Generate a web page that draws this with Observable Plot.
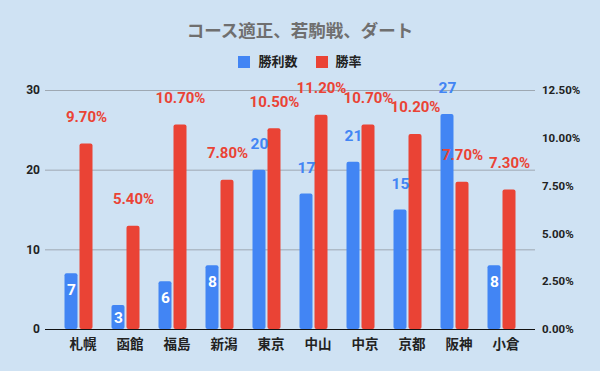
<!DOCTYPE html>
<html><head><meta charset="utf-8">
<script src="https://cdn.jsdelivr.net/npm/d3@7"></script>
<script src="https://cdn.jsdelivr.net/npm/@observablehq/plot@0.6"></script>
<style>
html,body{margin:0;padding:0;background:#cfe2f3;}
body{width:600px;height:371px;overflow:hidden;font-family:Roboto,"Noto Sans CJK JP",sans-serif;}
#title{height:44px;box-sizing:border-box;padding-top:21px;line-height:20px;text-align:center;font-size:17.5px;font-weight:bold;color:#6f6f6f;}
#legend{height:26px;box-sizing:border-box;padding-top:9px;line-height:20px;display:flex;justify-content:center;gap:18px;font-size:13px;font-weight:bold;color:#222;}
#legend span.item{display:flex;align-items:center;gap:8px;}
#legend i{display:inline-block;width:12px;height:12px;}
</style></head>
<body>
<div id="title"></div>
<div id="legend"></div>
<div id="chart"></div>
<script>
const titleText = "コース適正、若駒戦、ダート";
const seriesNames = ["勝利数", "勝率"];
const seriesColors = ["#4285f4", "#ea4335"];
const categories = ["札幌","函館","福島","新潟","東京","中山","中京","京都","阪神","小倉"];
const wins = [7,3,6,8,20,17,21,15,27,8];
const rates = [9.70,5.40,10.70,7.80,10.50,11.20,10.70,10.20,7.70,7.30];
const leftTicks = [0,10,20,30];
const rightTicks = [0,2.5,5,7.5,10,12.5];
const WIN_MAX = 30, RATE_MAX = 12.5;

document.getElementById("title").textContent = titleText;
const lg = document.getElementById("legend");
seriesNames.forEach((n,i)=>{
  const s = document.createElement("span"); s.className="item";
  const b = document.createElement("i"); b.style.background = seriesColors[i];
  s.appendChild(b); s.appendChild(document.createTextNode(n)); lg.appendChild(s);
});

const toLeft = r => r * WIN_MAX / RATE_MAX;
const data = categories.map((c,i)=>({cat:c, wins:wins[i], rate:rates[i], rateY:toLeft(rates[i])}));
const font = "Roboto, 'Noto Sans CJK JP', sans-serif";

const chart = Plot.plot({
  width: 600, height: 301,
  marginTop: 20, marginBottom: 42, marginLeft: 54.5, marginRight: 75.5,
  style: {background: "transparent", fontFamily: font, overflow: "visible"},
  x: {domain: categories, padding: 0},
  y: {domain: [0, WIN_MAX]},
  marks: [
    Plot.ruleY(leftTicks.filter(t=>t>0), {y: d=>d, stroke: "#9ea8b2", strokeWidth: 1, insetLeft: -9.5, insetRight: -10.5}),
    Plot.barY(data, {x: "cat", y: "wins", fill: seriesColors[0], insetLeft: 9.5, insetRight: 24.5, rx: 2}),
    Plot.barY(data, {x: "cat", y: "rateY", fill: seriesColors[1], insetLeft: 24.5, insetRight: 9.5, rx: 2}),
    Plot.ruleY([0], {stroke: "#111", strokeWidth: 1.2, insetLeft: -9.5, insetRight: -10.5}),
    Plot.axisY({ticks: leftTicks, anchor: "left", tickSize: 0, tickPadding: 15, fontSize: 12, fontWeight: "bold", fill: "#222", label: null}),
    Plot.axisY({ticks: rightTicks.map(toLeft), tickFormat: d => (d * RATE_MAX / WIN_MAX).toFixed(2) + "%", anchor: "right", tickSize: 0, tickPadding: 17, fontSize: 11.5, fontWeight: "bold", fill: "#222", label: null}),
    Plot.axisX({anchor: "bottom", tickSize: 0, tickPadding: 10, fontSize: 13.5, fontWeight: "bold", fill: "#222", dx: 4, label: null}),
    Plot.text(data.filter(d=>d.wins < 10), {x: "cat", y: d => Math.max(d.wins - 2, d.wins / 2), text: d=>String(d.wins), dx: -7.5, fill: "white", fontSize: 15.5, fontWeight: "bold"}),
    Plot.text(data.filter(d=>d.wins >= 10), {x: "cat", y: "wins", text: d=>String(d.wins), dx: -7.5, dy: -26, fill: seriesColors[0], fontSize: 15.5, fontWeight: "bold"}),
    Plot.text(data, {x: "cat", y: "rateY", text: d=>d.rate.toFixed(2) + "%", dx: 7.5, dy: -27, fill: seriesColors[1], fontSize: 15, fontWeight: "bold"})
  ]
});
document.getElementById("chart").appendChild(chart);
</script>
</body></html>
